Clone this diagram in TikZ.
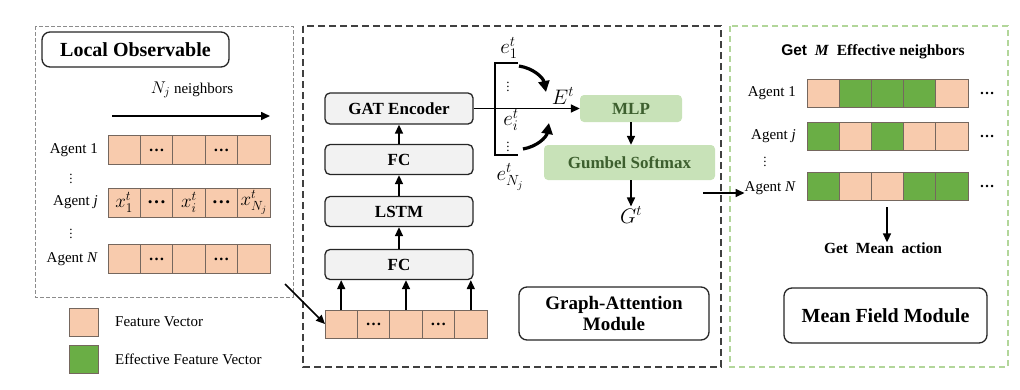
\RequirePackage{fix-cm}
\documentclass[tikz,border=0pt]{standalone}
\usepackage{fontspec}
\setmainfont{Liberation Serif}
\newfontfamily\getsans{Liberation Sans}
\usetikzlibrary{arrows.meta}
\definecolor{pinkc}{HTML}{F8CBAD}
\definecolor{greenc}{HTML}{6AAE45}
\definecolor{mlpc}{HTML}{C8E2B8}
\definecolor{mlptxt}{HTML}{3D5F2E}
\definecolor{cellb}{HTML}{75675E}
\definecolor{greendash}{HTML}{B2D69A}
\begin{document}
\begin{tikzpicture}[x=1pt,y=-1pt,
  layerbox/.style={draw=black!85, line width=1.3pt, rounded corners=5pt, fill=black!5,
    minimum width=148pt, minimum height=30pt, inner sep=0pt,
    font=\fontsize{17}{19}\selectfont\bfseries},
  titlebox/.style={draw=black!85, line width=1.3pt, rounded corners=8pt, fill=white,
    inner sep=0pt, align=center, font=\fontsize{19}{21}\selectfont\bfseries},
  cellp/.style={draw=cellb, line width=1pt, fill=pinkc, minimum width=32.4pt,
    minimum height=29pt, inner sep=0pt, outer sep=0pt, font=\fontsize{16}{18}\selectfont},
  cellg/.style={cellp, fill=greenc},
  greenbox/.style={fill=mlpc, rounded corners=4pt, text=mlptxt, inner sep=0pt,
    font=\fontsize{17}{19}\selectfont\bfseries},
  lbl/.style={font=\fontsize{15}{17}\selectfont, inner sep=0pt},
  arr/.style={-{Triangle[length=9pt,width=8pt]}, line width=1.6pt},
  bigarr/.style={-{Triangle[length=11pt,width=11pt]}, line width=3.2pt},
  mathl/.style={font=\fontsize{21}{23}\selectfont, inner sep=0pt},
  dotsl/.style={font=\fontsize{13}{14}\selectfont, inner sep=0pt}
]
\useasboundingbox (0,0) rectangle (1020,389);

% ---------- module frames ----------
\draw[draw=black!45, line width=1pt, dash pattern=on 4pt off 2pt] (35,26) rectangle (293,297);
\draw[draw=black!75, line width=1.6pt, dash pattern=on 7pt off 4pt] (303,26) rectangle (721,367);
\draw[draw=greendash, line width=1.3pt, dash pattern=on 6pt off 4pt] (730,26) rectangle (1008,367);

% ---------- Local observable ----------
\node[titlebox, minimum width=187pt, minimum height=35pt, font=\fontsize{20}{22}\selectfont\bfseries] (lo) at (135.5,49.5) {Local Observable};
\node[lbl] (nj) at (192,90) {{\fontsize{17}{19}\selectfont$N_j$} neighbors};
\coordinate (njs) at (112,116);
\coordinate (nje) at (270,116);
\draw[arr] (njs) -- (nje);

\foreach \i/\t in {1/{},2/{\bfseries\ldots},3/{},4/{\bfseries\ldots},5/{}} {
  \node[cellp] (La\i) at ({108+32.4*(\i-0.5)},150) {\t};
  \node[cellp] (Lc\i) at ({108+32.4*(\i-0.5)},259) {\t};
}
\foreach \i/\t in {1/{$x_1^t$},2/{\bfseries\ldots},3/{$x_i^t$},4/{\bfseries\ldots},5/{$x_{N_j}^t$}} {
  \node[cellp, font=\fontsize{19}{21}\selectfont] (Lb\i) at ({108+32.4*(\i-0.5)},202.5) {\t};
}
\node[lbl, anchor=east] (la1) at (98,150) {Agent 1};
\node[lbl, anchor=east] (laj) at (98,202.5) {Agent \textit{j}};
\node[lbl, anchor=east] (laN) at (98,259) {Agent \textit{N}};
\node[dotsl] (ld1) at (71,176) {$\vdots$};
\node[dotsl] (ld2) at (71,231) {$\vdots$};

% legend
\node[cellp, minimum width=29pt, minimum height=28pt] (legp) at (83.5,322) {};
\node[cellg, minimum width=29pt, minimum height=28pt] (legg) at (83.5,359) {};
\node[lbl, anchor=west] (legpt) at (115,322) {Feature Vector};
\node[lbl, anchor=west] (leggt) at (115,359) {Effective Feature Vector};

% ---------- Graph attention ----------
\foreach \i/\t in {1/{},2/{\bfseries\ldots},3/{},4/{\bfseries\ldots},5/{}} {
  \node[cellp, minimum height=28pt] (B\i) at ({325+32.4*(\i-0.5)},324) {\t};
}
\node[layerbox] (fc1) at (399,264.5) {FC};
\node[layerbox] (lstm) at (399,211.5) {LSTM};
\node[layerbox] (fc2) at (399,159.5) {FC};
\node[layerbox, minimum height=31pt] (gat) at (399,108.5) {GAT Encoder};

\coordinate (los) at (285,284);
\draw[arr] (los) -- (B1.west);
\draw[arr] (B1.north) -- (B1.north |- fc1.south);
\draw[arr] (B3.north) -- (B3.north |- fc1.south);
\draw[arr] (B5.north) -- (B5.north |- fc1.south);
\draw[arr] (fc1) -- (lstm);
\draw[arr] (lstm) -- (fc2);
\draw[arr] (fc2) -- (gat);

% bracket and embeddings
\coordinate (bt) at (495,63);
\coordinate (bb) at (495,155);
\coordinate (btr) at (518,63);
\coordinate (bbr) at (518,155);
\draw[line width=1.3pt] (btr) -- (bt) -- (bb) -- (bbr);
\node[mathl] (e1) at (509,48) {$e_1^t$};
\node[dotsl] (d1) at (508,84) {$\vdots$};
\node[mathl] (ei) at (511,120) {$e_i^t$};
\node[dotsl] (d2) at (508,144) {$\vdots$};
\node[mathl] (eN) at (510,177) {$e_{N_j}^t$};

\node[greenbox, minimum width=102pt, minimum height=27pt] (mlp) at (631,108.5) {MLP};
\node[greenbox, minimum width=171pt, minimum height=35pt] (gum) at (629.5,162.5) {Gumbel Softmax};
\node[mathl] (Et) at (563,96) {$E^t$};
\node[mathl] (Gt) at (631,215) {$G^t$};
\draw[arr] (gat.east) -- (mlp.west);
\coordinate (c1s) at (519,66);
\coordinate (c1e) at (546,92);
\coordinate (c2s) at (523,149);
\coordinate (c2e) at (549,123);
\draw[bigarr] (c1s) to[bend left=35] (c1e);
\draw[bigarr] (c2s) to[bend right=35] (c2e);
\draw[arr] (mlp.south) -- (mlp.south |- gum.north);
\draw[arr] (gum.south -| Gt.north) -- (Gt.north);

\node[titlebox, minimum width=190pt, minimum height=53pt] (gam) at (614,313.5) {Graph-Attention\\Module};

% ---------- Mean field ----------
\node[lbl, font=\fontsize{15.5}{17}\selectfont\bfseries] (getm) at (873,52) {{\getsans Get} \ \textit{M} \ Effective neighbors};
\foreach \i/\s in {1/cellp,2/cellg,3/cellg,4/cellg,5/cellp} {
  \node[\s, minimum width=32.2pt, minimum height=28pt] (R1\i) at ({807+32.2*(\i-0.5)},93) {};
}
\foreach \i/\s in {1/cellg,2/cellp,3/cellg,4/cellp,5/cellp} {
  \node[\s, minimum width=32.2pt, minimum height=28pt] (R2\i) at ({807+32.2*(\i-0.5)},136.5) {};
}
\foreach \i/\s in {1/cellg,2/cellp,3/cellp,4/cellg,5/cellg} {
  \node[\s, minimum width=32.2pt, minimum height=28pt] (R3\i) at ({807+32.2*(\i-0.5)},186) {};
}
\node[lbl, anchor=east] (ra1) at (796,93) {Agent 1};
\node[lbl, anchor=east] (raj) at (796,136.5) {Agent \textit{j}};
\node[lbl, anchor=east] (raN) at (796,188) {Agent \textit{N}};
\node[dotsl] (rd) at (765,159) {$\vdots$};
\node[lbl] (rx1) at (987,93) {\bfseries\ldots};
\node[lbl] (rx2) at (987,136.5) {\bfseries\ldots};
\node[lbl] (rx3) at (987,186) {\bfseries\ldots};

\coordinate (gout) at (703,193);
\draw[arr] (gout) -- (raN.west |- gout);

\coordinate (ma) at (887,207);
\node[lbl, font=\fontsize{15.5}{17}\selectfont\bfseries] (gma) at (883,248) {Get \ Mean \ action};
\draw[arr] (ma) -- (gma.north -| ma);

\node[titlebox, minimum width=203pt, minimum height=55pt, font=\fontsize{20}{22}\selectfont\bfseries] (mfm) at (885.5,315.5) {Mean Field Module};
\end{tikzpicture}
\end{document}
